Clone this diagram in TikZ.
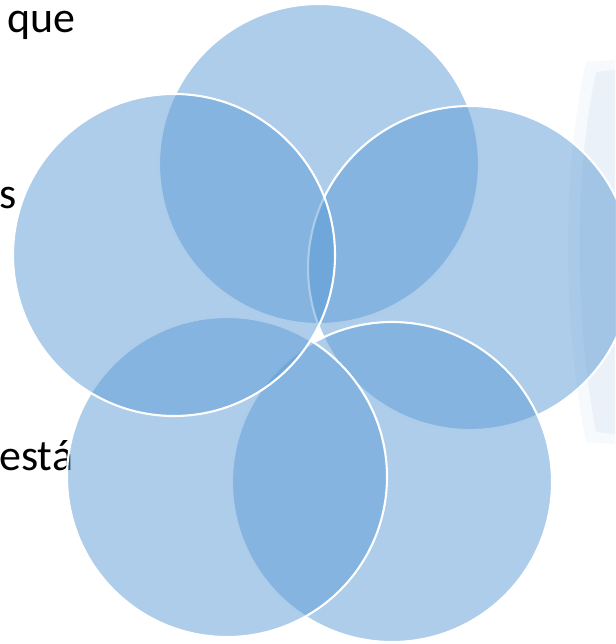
\documentclass[tikz,border=0pt]{standalone}
\usepackage{fontspec}
\setmainfont{Carlito}
\usetikzlibrary{positioning}

\definecolor{petalblue}{HTML}{5B9BD5}
\definecolor{glowblue}{HTML}{E4EDF7}

\tikzset{
    petal/.style={fill=petalblue, fill opacity=0.5, draw=white, line width=1.2pt},
    sidetext/.style={anchor=base west, inner sep=0pt, font=\fontsize{25}{30}\selectfont}
}

\begin{document}
\begin{tikzpicture}[x=0.02cm, y=-0.02cm]
    \useasboundingbox (0,0) rectangle (615,644);

    % Faint glow at the right edge
    \fill[glowblue!30] (615,60) -- (586,62) .. controls (562,170) and (562,320) .. (586,442) -- (615,444) -- cycle;
    \fill[glowblue!75] (615,70) -- (596,72) .. controls (574,175) and (574,315) .. (596,432) -- (615,434) -- cycle;

    % Text left behind the circles
    \node[sidetext] (que) at (7,33) {que};
    \node[sidetext] (ends) at (-1,209) {s};
    \node[sidetext] (esta) at (-1,470) {está};

    % Circles, drawn clockwise from the top
    \draw[petal] (319,164) circle (160);  % top
    \draw[petal] (470,268) circle (162);  % right
    \draw[petal] (392,482) circle (160);  % bottom right
    \draw[petal] (227,477) circle (160);  % bottom left
    \draw[petal] (174,255) circle (161);  % left
\end{tikzpicture}
\end{document}
